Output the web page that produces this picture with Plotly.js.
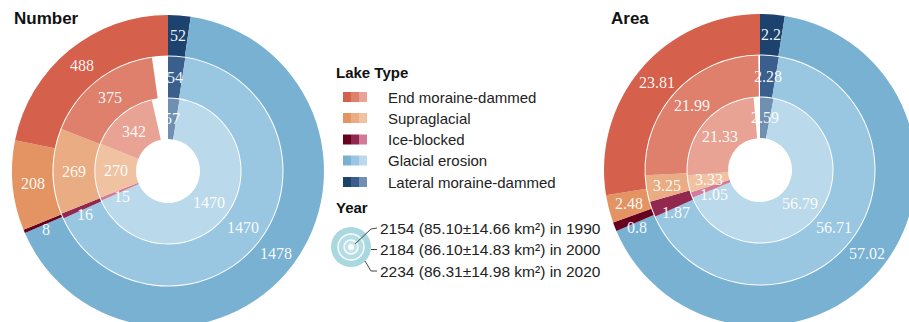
<!DOCTYPE html>
<html>
<head>
<meta charset="utf-8">
<script src="https://cdn.plot.ly/plotly-3.0.1.min.js"></script>
<style>
  html, body { margin: 0; padding: 0; overflow: hidden; background: #fff; }
  #chart { width: 930px; height: 345px; }
</style>
</head>
<body>
<div id="chart"></div>
<script>
// Glacial lake inventory: number and area by lake type, 1990 / 2000 / 2020
const years = ['1990', '2000', '2020'];

// slice order (clockwise from 12 o'clock)
const lakeTypes = ['Lateral moraine-dammed', 'Glacial erosion', 'Ice-blocked', 'Supraglacial', 'End moraine-dammed'];

const count1990 = [57, 1470, 15, 270, 342];
const count2000 = [54, 1470, 16, 269, 375];
const count2020 = [52, 1478, 8, 208, 488];

const area1990 = [2.59, 56.79, 1.05, 3.33, 21.33];
const area2000 = [2.28, 56.71, 1.87, 3.25, 21.99];
const area2020 = [2.2, 57.02, 0.8, 2.48, 23.81];

// legend rows
const legendTypes = ['End moraine-dammed', 'Supraglacial', 'Ice-blocked', 'Glacial erosion', 'Lateral moraine-dammed'];
const yearTotals = ['2154', '2184', '2234'];
const yearMeanArea = ['85.10', '86.10', '86.31'];
const yearAreaErr = ['14.66', '14.83', '14.98'];

// colours per type: [1990 (light), 2000 (medium), 2020 (dark)]
const typeColors = {
  'End moraine-dammed':     ['#e9a394', '#de806c', '#d5604c'],
  'Supraglacial':           ['#f0c2a2', '#eaac82', '#e39462'],
  'Ice-blocked':            ['#d27a97', '#92284f', '#67001f'],
  'Glacial erosion':        ['#bad9ea', '#99c6e1', '#79b1d3'],
  'Lateral moraine-dammed': ['#7090b2', '#3a5f8c', '#1c426e']
};

// canvas & geometry (pixels)
const W = 930, H = 345;
const ringRadii = [[32, 72.5], [73.5, 114.5], [115.5, 156]];
const px = x => x / W;
const py = y => (H - y) / H;

const panels = [
  { title: 'Number', titleX: 12, cx: 168, cy: 171, rings: [count1990, count2000, count2020] },
  { title: 'Area',   titleX: 609, cx: 760, cy: 170, rings: [area1990, area2000, area2020] }
];

const traces = [];
const annotations = [];
const shapes = [];

panels.forEach(p => {
  const sums = p.rings.map(r => r.reduce((a, b) => a + b, 0));
  const full = Math.max(...sums);
  p.rings.forEach((vals, i) => {
    const [rin, rout] = ringRadii[i];
    const gap = Math.max(full - sums[i], 0);
    const colors = lakeTypes.map(t => typeColors[t][i]).concat(['rgba(0,0,0,0)']);
    traces.push({
      type: 'pie',
      values: vals.concat([gap]),
      labels: lakeTypes.concat(['gap']),
      marker: { colors: colors, line: { width: 0 } },
      sort: false,
      direction: 'clockwise',
      rotation: 0,
      hole: rin / rout,
      textinfo: 'none',
      hoverinfo: 'skip',
      showlegend: false,
      domain: {
        x: [px(p.cx - rout), px(p.cx + rout)],
        y: [py(p.cy + rout), py(p.cy - rout)]
      }
    });
    // value labels: middle of each slice; the thin ice-blocked sliver is
    // labelled just below its leading edge so it clears the supraglacial label
    let cum = 0;
    const rm = (rin + rout) / 2;
    vals.forEach((v, j) => {
      const thin = lakeTypes[j] === 'Ice-blocked';
      const th = thin ? cum / full * 2 * Math.PI - 5 / rm
                      : (cum + v / 2) / full * 2 * Math.PI;
      cum += v;
      annotations.push({
        xref: 'paper', yref: 'paper',
        x: px(p.cx + rm * Math.sin(th)),
        y: py(p.cy - rm * Math.cos(th)),
        text: String(v), showarrow: false,
        xanchor: 'center', yanchor: 'middle',
        font: { family: 'Liberation Serif, Times New Roman, serif', size: 16, color: 'rgba(255,255,255,0.95)' }
      });
    });
  });
  annotations.push({
    xref: 'paper', yref: 'paper', x: px(p.titleX), y: py(19),
    xanchor: 'left', yanchor: 'middle', showarrow: false,
    text: '<b>' + p.title + '</b>',
    font: { family: 'Liberation Sans, Arial, sans-serif', size: 17, color: '#111' }
  });
});

// ---- legend: lake types ----
const sansFont = 'Liberation Sans, Arial, sans-serif';
annotations.push({
  xref: 'paper', yref: 'paper', x: px(334), y: py(72), xanchor: 'left', yanchor: 'middle',
  showarrow: false, text: '<b>Lake Type</b>', font: { family: sansFont, size: 15, color: '#111' }
});
const rowY = [97, 118, 139.5, 160.5, 182];
legendTypes.forEach((t, k) => {
  const cols = typeColors[t];
  [2, 1, 0].forEach((yi, b) => {
    shapes.push({
      type: 'rect', xref: 'paper', yref: 'paper',
      x0: px(343 + b * 8), x1: px(351 + b * 8),
      y0: py(rowY[k] + 5), y1: py(rowY[k] - 5),
      fillcolor: cols[yi], line: { width: 0 }
    });
  });
  annotations.push({
    xref: 'paper', yref: 'paper', x: px(386), y: py(rowY[k]), xanchor: 'left', yanchor: 'middle',
    showarrow: false, text: t, font: { family: sansFont, size: 15, color: '#222' }
  });
});

// ---- legend: years ----
annotations.push({
  xref: 'paper', yref: 'paper', x: px(334), y: py(207), xanchor: 'left', yanchor: 'middle',
  showarrow: false, text: '<b>Year</b>', font: { family: sansFont, size: 15, color: '#111' }
});
const icx = 351, icy = 247;
function circle(r, fill, lineColor, lw) {
  shapes.push({
    type: 'circle', xref: 'paper', yref: 'paper',
    x0: px(icx - r), x1: px(icx + r), y0: py(icy + r), y1: py(icy - r),
    fillcolor: fill, line: { color: lineColor, width: lw }
  });
}
circle(20, '#a9d8e1', 'rgba(0,0,0,0)', 0);
circle(13, '#b5dde5', 'rgba(255,255,255,0.9)', 1.5);
circle(7, '#c3e3ea', 'rgba(255,255,255,0.9)', 1.5);
circle(3, '#ffffff', 'rgba(0,0,0,0)', 0);

const yearRowY = [228, 249.5, 271];
const leaderPaths = [
  [[355, 244], [371, 229], [377, 228]],
  [[371, 249.5], [377, 249.5]],
  [[365, 261], [371, 271], [377, 271]]
];
leaderPaths.forEach(pts => {
  shapes.push({
    type: 'path', xref: 'paper', yref: 'paper',
    path: pts.map((q, i) => (i ? 'L' : 'M') + px(q[0]) + ',' + py(q[1])).join(' '),
    line: { color: '#444', width: 1 }
  });
});
years.forEach((y, i) => {
  annotations.push({
    xref: 'paper', yref: 'paper', x: px(378), y: py(yearRowY[i]), xanchor: 'left', yanchor: 'middle',
    showarrow: false,
    text: yearTotals[i] + ' (' + yearMeanArea[i] + '±' + yearAreaErr[i] + ' km²) in ' + y,
    font: { family: sansFont, size: 15.5, color: '#222' }
  });
});

const layout = {
  width: W, height: H,
  margin: { l: 0, r: 0, t: 0, b: 0 },
  paper_bgcolor: '#ffffff',
  showlegend: false,
  annotations: annotations,
  shapes: shapes
};

Plotly.newPlot('chart', traces, layout, { staticPlot: true, displayModeBar: false });
</script>
</body>
</html>
